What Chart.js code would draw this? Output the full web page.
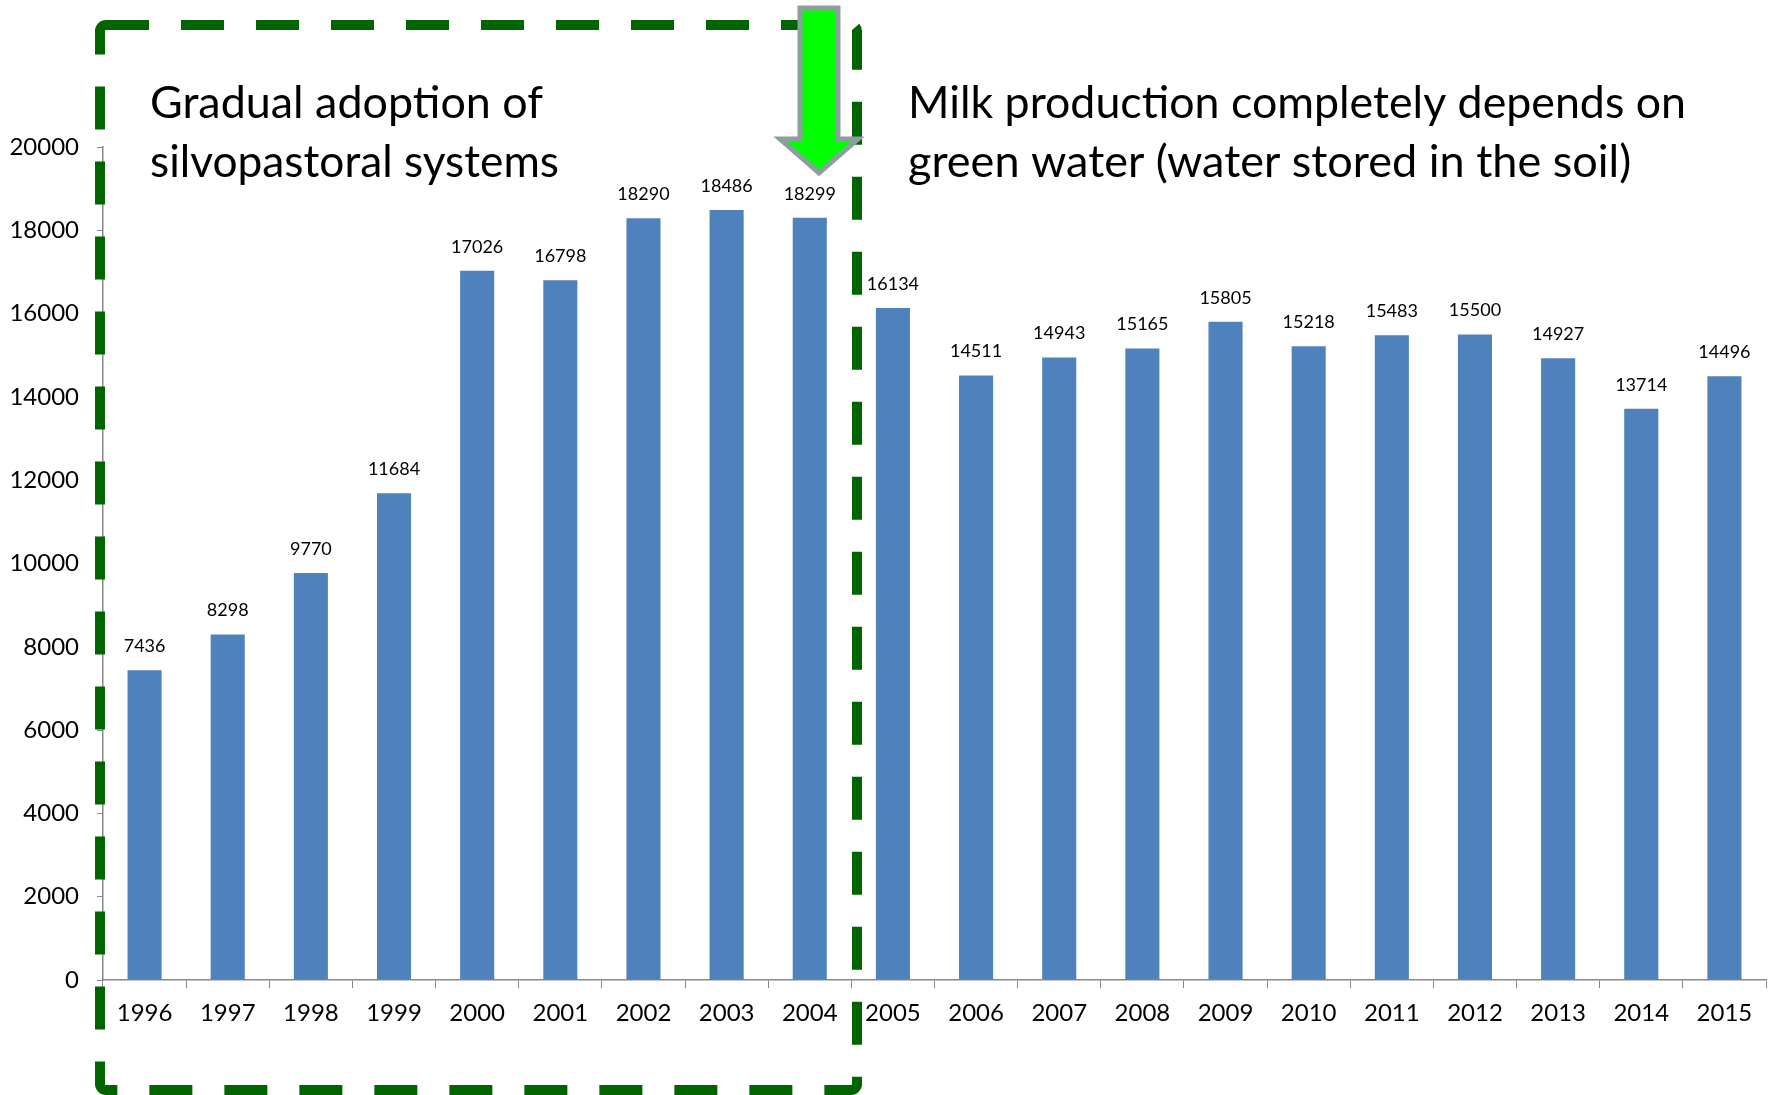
<!DOCTYPE html>
<html>
<head>
<meta charset="utf-8">
<title>Milk production 1996-2015</title>
<script src="https://cdn.jsdelivr.net/npm/chart.js@4"></script>
<style>
  html, body { margin: 0; padding: 0; background: #fff; }
  #wrap { width: 1777px; height: 1095px; }
</style>
</head>
<body>
<div id="wrap"><canvas id="milkChart" width="1777" height="1095"></canvas></div>
<script>
const years = ['1996', '1997', '1998', '1999', '2000', '2001', '2002', '2003', '2004', '2005',
  '2006', '2007', '2008', '2009', '2010', '2011', '2012', '2013', '2014', '2015'];
const milkValues = [7436, 8298, 9770, 11684, 17026, 16798, 18290, 18486, 18299, 16134,
  14511, 14943, 15165, 15805, 15218, 15483, 15500, 14927, 13714, 14496];
const yTickValues = [0, 2000, 4000, 6000, 8000, 10000, 12000, 14000, 16000, 18000, 20000];

const leftNote = ['Gradual adoption of', 'silvopastoral systems'];
const rightNote = ['Milk production completely depends on', 'green water (water stored in the soil)'];

const FONT = 'Lato, "Open Sans", sans-serif';
const AXIS_GRAY = '#888888';

// numbers above each bar
const barLabels = {
  id: 'barLabels',
  afterDatasetsDraw(chart) {
    const ctx = chart.ctx;
    const meta = chart.getDatasetMeta(0);
    ctx.save();
    ctx.font = '18px ' + FONT;
    ctx.fillStyle = '#000';
    ctx.textAlign = 'center';
    ctx.textBaseline = 'middle';
    meta.data.forEach((bar, i) => {
      ctx.fillText(String(milkValues[i]), bar.x, bar.y - 24);
    });
    ctx.restore();
  }
};

// dashed frame around the first period, arrow and the two notes
const notes = {
  id: 'notes',
  afterDraw(chart) {
    const ctx = chart.ctx;
    ctx.save();

    ctx.strokeStyle = '#006400';
    ctx.lineWidth = 10;
    ctx.lineCap = 'butt';
    ctx.setLineDash([43, 32]);
    ctx.beginPath();
    ctx.roundRect(100, 25, 757, 1065, 6);
    ctx.stroke();
    ctx.setLineDash([]);

    // arrow
    ctx.beginPath();
    ctx.moveTo(800, 8);
    ctx.lineTo(838, 8);
    ctx.lineTo(838, 139);
    ctx.lineTo(858, 139);
    ctx.lineTo(819, 173);
    ctx.lineTo(780, 139);
    ctx.lineTo(800, 139);
    ctx.closePath();
    ctx.fillStyle = '#00ff00';
    ctx.fill();
    ctx.lineWidth = 5;
    ctx.lineJoin = 'miter';
    ctx.strokeStyle = '#8c9e9e';
    ctx.stroke();

    ctx.fillStyle = '#000';
    ctx.font = '45px ' + FONT;
    ctx.textAlign = 'left';
    ctx.textBaseline = 'alphabetic';
    ctx.fillText(leftNote[0], 150, 118, 393);
    ctx.fillText(leftNote[1], 150, 177, 409);
    ctx.fillText(rightNote[0], 908, 118, 778);
    ctx.fillText(rightNote[1], 908, 177, 725);

    ctx.restore();
  }
};

const ctx = document.getElementById('milkChart');

let milkChart = new Chart(ctx, {
  type: 'bar',
  data: {
    labels: years,
    datasets: [{
      data: milkValues,
      backgroundColor: '#4f81bd',
      borderWidth: 0,
      barPercentage: 0.41,
      categoryPercentage: 1
    }]
  },
  options: {
    responsive: false,
    animation: false,
    layout: {
      padding: { top: 147, right: 11, left: 0, bottom: 0 }
    },
    plugins: {
      legend: { display: false },
      tooltip: { enabled: false }
    },
    scales: {
      x: {
        offset: true,
        grid: {
          offset: true,
          drawOnChartArea: false,
          drawTicks: true,
          tickLength: 8,
          color: AXIS_GRAY
        },
        border: { color: AXIS_GRAY, width: 1.5 },
        ticks: {
          autoSkip: false,
          maxRotation: 0,
          padding: 11,
          color: '#000',
          font: { family: FONT, size: 24 }
        },
        afterFit(scale) { scale.height = 115; }
      },
      y: {
        min: 0,
        max: 20000,
        afterBuildTicks(scale) {
          scale.ticks = yTickValues.map(v => ({ value: v }));
        },
        grid: {
          drawOnChartArea: false,
          drawTicks: true,
          tickLength: 6,
          color: AXIS_GRAY
        },
        border: { color: AXIS_GRAY, width: 1.5 },
        ticks: {
          padding: 18,
          color: '#000',
          font: { family: FONT, size: 24 },
          callback: (value) => String(value)
        },
        afterFit(scale) { scale.width = 103; }
      }
    }
  },
  plugins: [barLabels, notes]
});
</script>
</body>
</html>
